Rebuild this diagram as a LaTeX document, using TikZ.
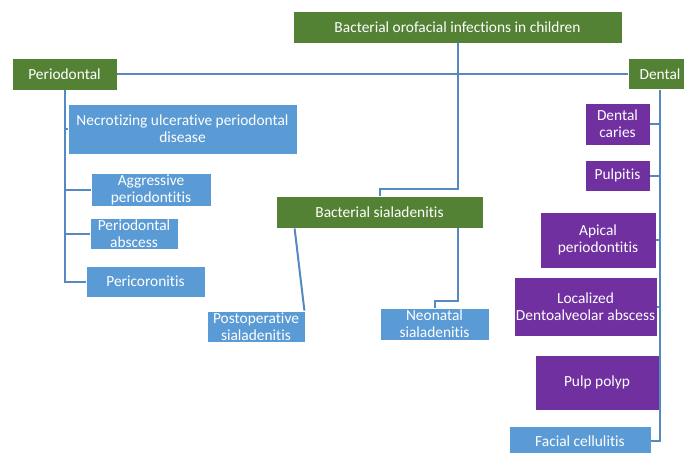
\documentclass[tikz,border=0pt]{standalone}
\usepackage{fontspec}
\setmainfont{Carlito}[Ligatures={NoCommon,NoRequired,NoContextual}]
\definecolor{leafgreen}{HTML}{548235}
\definecolor{skyblue}{HTML}{5B9BD5}
\definecolor{grape}{HTML}{7030A0}
\definecolor{wire}{HTML}{5589C4}
\begin{document}
\begin{tikzpicture}[x=1pt,y=-1pt,
    box/.style={rectangle,draw=white,line width=0.8pt,text=white,align=center,
      inner sep=1pt,font=\fontsize{15.4}{17}\selectfont},
    head/.style={box,fill=leafgreen},
    perio/.style={box,fill=skyblue},
    pulp/.style={box,fill=grape},
    wiring/.style={draw=wire,line width=2pt}]
      \useasboundingbox (0,0) rectangle (684,452);
      \clip (0,0) rectangle (684,452);
      % heads
      \node[head,minimum width=329pt,minimum height=32pt] (top) at (457.5,27) {Bacterial orofacial infections in children};
      \node[head,minimum width=105pt,minimum height=32pt] (periodontal) at (64.5,74) {Periodontal};
      \node[head,minimum width=64pt,minimum height=31pt] (dental) at (660,74) {Dental};
      \node[head,minimum width=207pt,minimum height=32pt] (sialadenitis) at (379.5,212) {Bacterial sialadenitis};
      % periodontal side
      \node[perio,minimum width=229pt,minimum height=50pt] (necro) at (182.5,129) {Necrotizing ulcerative periodontal\\disease};
      \node[perio,minimum width=120pt,minimum height=33pt] (aggressive) at (151,189.5) {Aggressive\\periodontitis};
      \node[perio,minimum width=88pt,minimum height=31pt] (pabscess) at (134,233.5) {Periodontal\\abscess};
      \node[perio,minimum width=119pt,minimum height=31pt] (pericoronitis) at (145.5,281.5) {Pericoronitis};
      % sialadenitis
      \node[perio,minimum width=98pt,minimum height=31pt] (postop) at (256,326.5) {Postoperative\\sialadenitis};
      \node[perio,minimum width=109pt,minimum height=32pt] (neonatal) at (434.5,324) {Neonatal\\sialadenitis};
      % dental side
      \node[pulp,minimum width=65pt,minimum height=42pt] (caries) at (617.5,124) {Dental\\caries};
      \node[pulp,minimum width=65pt,minimum height=31pt] (pulpitis) at (617.5,175.5) {Pulpitis};
      \node[pulp,minimum width=116pt,minimum height=56pt] (apical) at (598,240) {Apical\\periodontitis};
      \node[pulp,minimum width=143pt,minimum height=59pt] (localized) at (585.5,306.5) {Localized\\Dentoalveolar abscess};
      \node[pulp,minimum width=124pt,minimum height=55pt] (polyp) at (597,382.5) {Pulp polyp};
      \node[perio,minimum width=142pt,minimum height=30pt] (facial) at (580,441) {Facial cellulitis};
      % connectors
      \coordinate (bend1) at (379.5,189);
      \coordinate (bend2) at (434.5,301);
      \draw[wiring] (periodontal) -- (dental);
      \draw[wiring] (top.south) |- (bend1) -- (sialadenitis.north);
      \draw[wiring] (sialadenitis.south -| top.south) |- (bend2) -- (neonatal.north);
      \draw[wiring] ([xshift=19pt]sialadenitis.south west) -- ([xshift=-1pt]postop.north east);
      \draw[wiring] (periodontal.south) |- (pericoronitis.west);
      \foreach \n in {necro,aggressive,pabscess}
        \draw[wiring] (periodontal.south |- \n.west) -- (\n.west);
      \draw[wiring] (dental.south) |- (facial.east);
      \foreach \n in {caries,pulpitis,apical,localized,polyp}
        \draw[wiring] (dental.south |- \n.east) -- (\n.east);
    \end{tikzpicture}
\end{document}
